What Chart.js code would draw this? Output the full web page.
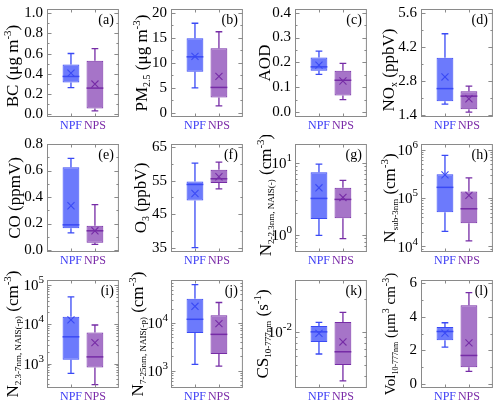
<!DOCTYPE html>
<html><head><meta charset="utf-8">
<script src="https://cdn.jsdelivr.net/npm/chart.js@4.4.1/dist/chart.umd.min.js"></script>
<style>
html,body{margin:0;padding:0;background:#fff;width:500px;height:406px;overflow:hidden;position:relative}
canvas{position:absolute}
</style></head><body>
<script>
// ---------------- DATA ----------------
const categories = ['NPF', 'NPS'];
// box stats: [min, q1, median, q3, max]; means: [NPF, NPS]
const bcNPF = [0.264, 0.314, 0.375, 0.492, 0.601];
const bcNPS = [0.035, 0.060, 0.260, 0.530, 0.650];
const bcMean = [0.408, 0.300];
const bcTicks = [0, 0.2, 0.4, 0.6, 0.8, 1.0];

const pmNPF = [5.0, 8.2, 11.2, 14.9, 17.9];
const pmNPS = [1.4, 3.1, 5.1, 12.9, 16.2];
const pmMean = [11.3, 7.3];
const pmTicks = [0, 5, 10, 15, 20];

const aodNPF = [0.152, 0.166, 0.182, 0.220, 0.245];
const aodNPS = [0.050, 0.067, 0.128, 0.166, 0.196];
const aodMean = [0.189, 0.125];
const aodTicks = [0.0, 0.1, 0.2, 0.3, 0.4];

const noxNPF = [1.86, 1.98, 2.50, 3.77, 4.76];
const noxNPS = [1.53, 1.65, 2.19, 2.39, 2.60];
const noxMean = [2.98, 2.08];
const noxTicks = [1.4, 2.8, 4.2, 5.6];

const coNPF = [0.130, 0.165, 0.190, 0.624, 0.692];
const coNPS = [0.042, 0.055, 0.145, 0.183, 0.342];
const coMean = [0.334, 0.145];
const coTicks = [0.0, 0.2, 0.4, 0.6, 0.8];

const o3NPF = [35.0, 49.1, 53.9, 54.8, 60.3];
const o3NPS = [52.6, 54.3, 55.6, 58.3, 60.6];
const o3Mean = [51.2, 56.2];
const o3Ticks = [35, 45, 55, 65];

const n2NPF = [0.98, 1.65, 3.2, 7.4, 9.6];
const n2NPS = [0.88, 1.7, 3.1, 4.5, 5.7];
const n2Mean = [4.5, 3.3];
const n2Ticks = [1, 10];

const nsubNPF = [2.05e4, 5.1e4, 1.66e5, 3.1e5, 7.6e5];
const nsubNPS = [1.3e4, 3.0e4, 6.0e4, 1.37e5, 2.6e5];
const nsubMean = [3.0e5, 1.13e5];
const nsubTicks = [1e4, 1e5, 1e6];

const n23NPF = [560, 1260, 4800, 1.55e4, 5.0e4];
const n23NPS = [290, 790, 1480, 6200, 9600];
const n23Mean = [1.3e4, 3400];
const n23Ticks = [1e3, 1e4, 1e5];

const n7NPF = [1360, 6200, 1.2e4, 3.25e4, 6.4e4];
const n7NPS = [1250, 2250, 5800, 1.45e4, 2.7e4];
const n7Mean = [2.25e4, 9700];
const n7Ticks = [1e3, 1e4];

const csNPF = [6.3e-3, 8.1e-3, 1.0e-2, 1.13e-2, 1.22e-2];
const csNPS = [3.6e-3, 5.0e-3, 6.6e-3, 1.23e-2, 1.5e-2];
const csMean = [9.7e-3, 8.1e-3];
const csTicks = [1e-2];

const volNPF = [2.2, 2.6, 3.13, 3.4, 3.65];
const volNPS = [0.75, 1.0, 1.7, 4.7, 5.45];
const volMean = [3.03, 2.45];
const volTicks = [0, 2, 4, 6];

// ---------------- STYLE / LAYOUT ----------------
const FONT = '"Liberation Serif","Times New Roman",serif';
Chart.defaults.font.family = FONT;
const fillC = ['rgb(108,122,252)', 'rgb(166,116,200)'];
const lineC = ['rgb(58,74,245)', 'rgb(118,44,166)'];
const lblC = ['#3b3bf5', '#7a2aa8'];
const frameC = '#8a8a8a';
const colLeft = [47, 171, 295, 421], rowTop = [9, 144, 280];
const PW = 74, PH = 108, YW = 47, PADT = 9, PADR = 4, XH = 24;
const TICKFS = 15;

const panels = [
  {letter:'(a)', npf:bcNPF, nps:bcNPS, mean:bcMean, log:false, min:-0.025, max:1.04, ticks:bcTicks, dec:1, row:0, col:0, tOff:29, tY:3, fs:17,
   title:[['BC (μg m',''],['-3','sup'],[')','']]},
  {letter:'(b)', npf:pmNPF, nps:pmNPS, mean:pmMean, log:false, min:-0.8, max:20.74, ticks:pmTicks, dec:0, row:0, col:1, tOff:24, tY:0, fs:17,
   title:[['PM',''],['2.5','sub'],[' (μg m',''],['-3','sup'],[')','']]},
  {letter:'(c)', npf:aodNPF, nps:aodNPS, mean:aodMean, log:false, min:-0.02, max:0.415, ticks:aodTicks, dec:1, row:0, col:2, tOff:25, tY:0, fs:17,
   title:[['AOD','']]},
  {letter:'(d)', npf:noxNPF, nps:noxNPS, mean:noxMean, log:false, min:1.33, max:5.78, ticks:noxTicks, dec:1, row:0, col:3, tOff:27, tY:7, fs:17,
   title:[['NO',''],['x','sub'],[' (ppbV)','']]},
  {letter:'(e)', npf:coNPF, nps:coNPS, mean:coMean, log:false, min:-0.015, max:0.8, ticks:coTicks, dec:1, row:1, col:0, tOff:27, tY:0, fs:17,
   title:[['CO (ppmV)','']]},
  {letter:'(f)', npf:o3NPF, nps:o3NPS, mean:o3Mean, log:false, min:33.7, max:66, ticks:o3Ticks, dec:0, row:1, col:1, tOff:25, tY:0, fs:17,
   title:[['O',''],['3','sub'],[' (ppbV)','']]},
  {letter:'(g)', npf:n2NPF, nps:n2NPS, mean:n2Mean, log:true, min:0.575, max:18.3, ticks:n2Ticks, row:1, col:2, tOff:24, tY:-3, fs:17,
   title:[['N',''],['2-2.3nm, NAIS(-)','sub2'],[' (cm',''],['-3','sup'],[')','']]},
  {letter:'(h)', npf:nsubNPF, nps:nsubNPS, mean:nsubMean, log:true, min:7.7e3, max:1.3e6, ticks:nsubTicks, row:1, col:3, tOff:26, tY:0, fs:17,
   title:[['N',''],['sub-3nm','sub2'],[' (cm',''],['-3','sup'],[')','']]},
  {letter:'(i)', npf:n23NPF, nps:n23NPS, mean:n23Mean, log:true, min:239, max:1.34e5, ticks:n23Ticks, row:2, col:0, tOff:29, tY:0, fs:17,
   title:[['N',''],['2.3-7nm, NAIS(-p)','sub2'],[' (cm',''],['-3','sup'],[')','']]},
  {letter:'(j)', npf:n7NPF, nps:n7NPS, mean:n7Mean, log:true, min:435, max:8.0e4, ticks:n7Ticks, row:2, col:1, tOff:28, tY:0, fs:17,
   title:[['N',''],['7-25nm, NAIS(-p)','sub2'],[' (cm',''],['-3','sup'],[')','']]},
  {letter:'(k)', npf:csNPF, nps:csNPS, mean:csMean, log:true, min:3.1e-3, max:2.95e-2, ticks:csTicks, row:2, col:2, tOff:27, tY:0, fs:17,
   title:[['CS',''],['10-777nm','sub2'],[' (s',''],['-1','sup'],[')','']]},
  {letter:'(l)', npf:volNPF, nps:volNPS, mean:volMean, log:false, min:-0.24, max:6.2, ticks:volTicks, dec:0, row:2, col:3, tOff:26, tY:0, fs:15,
   title:[['Vol',''],['10-777nm','sub2'],[' (μm',''],['3','sup'],[' cm',''],['-3','sup'],[')','']]},
];

function segFont(kind, fs){
  if (kind === 'sup') return Math.round(fs*0.66) + 'px ' + FONT;
  if (kind === 'sub') return Math.round(fs*0.6) + 'px ' + FONT;
  if (kind === 'sub2') return Math.round(fs*0.5) + 'px ' + FONT;
  return fs + 'px ' + FONT;
}
function drawRotTitle(ctx, segs, xBase, yCenter, fs){
  ctx.save();
  let total = 0;
  const w = segs.map(s => { ctx.font = segFont(s[1], fs); const m = ctx.measureText(s[0]).width; total += m; return m; });
  ctx.translate(xBase, yCenter);
  ctx.rotate(-Math.PI/2);
  ctx.fillStyle = '#000';
  ctx.textBaseline = 'alphabetic';
  ctx.textAlign = 'left';
  let x = -total/2;
  segs.forEach((s, i) => {
    ctx.font = segFont(s[1], fs);
    const dy = s[1] === 'sup' ? -fs*0.42 : (s[1] === 'sub' || s[1] === 'sub2') ? fs*0.2 : 0;
    ctx.fillText(s[0], x, dy);
    x += w[i];
  });
  ctx.restore();
}

function makePlugin(p){
  return {
    id: 'boxplot' + p.letter,
    afterDatasetDraw(chart, args){
      if (args.index !== 0) return;
      const ctx = chart.ctx, xs = chart.scales.x, ys = chart.scales.y;
      const Y = v => ys.getPixelForValue(v);
      ctx.save();
      [p.npf, p.nps].forEach((b, i) => {
        const cx = xs.getPixelForValue(i + 1);
        const hw = xs.getPixelForValue(i + 1.35) - cx;
        const cw = xs.getPixelForValue(i + 1.14) - cx;
        ctx.strokeStyle = lineC[i];
        ctx.lineWidth = 1.3;
        ctx.beginPath();
        ctx.moveTo(cx, Y(b[3])); ctx.lineTo(cx, Y(b[4]));
        ctx.moveTo(cx - cw, Y(b[4])); ctx.lineTo(cx + cw, Y(b[4]));
        ctx.moveTo(cx, Y(b[1])); ctx.lineTo(cx, Y(b[0]));
        ctx.moveTo(cx - cw, Y(b[0])); ctx.lineTo(cx + cw, Y(b[0]));
        ctx.stroke();
        ctx.lineWidth = 1.5;
        ctx.beginPath();
        ctx.moveTo(cx - hw, Y(b[2])); ctx.lineTo(cx + hw, Y(b[2]));
        ctx.stroke();
      });
      ctx.restore();
    },
    afterDraw(chart){
      const ctx = chart.ctx, a = chart.chartArea, xs = chart.scales.x, ys = chart.scales.y;
      ctx.save();
      ctx.strokeStyle = frameC; ctx.lineWidth = 1;
      ctx.strokeRect(a.left + 0.5, a.top + 0.5, a.right - a.left - 1, a.bottom - a.top - 1);
      const tickAt = (v, len) => {
        const y = Math.round(ys.getPixelForValue(v)) + 0.5;
        if (y < a.top || y > a.bottom) return;
        ctx.moveTo(a.left, y); ctx.lineTo(a.left + len, y);
        ctx.moveTo(a.right, y); ctx.lineTo(a.right - len, y);
      };
      ctx.beginPath();
      if (p.log) {
        const d0 = Math.floor(Math.log10(p.min)), d1 = Math.ceil(Math.log10(p.max));
        for (let d = d0; d <= d1; d++) {
          for (let m = 1; m <= 9; m++) {
            const v = m * Math.pow(10, d);
            if (v > p.min && v < p.max) tickAt(v, m === 1 ? 4.5 : 2.5);
          }
        }
      } else {
        const t = p.ticks, step = t[1] - t[0];
        t.forEach(v => tickAt(v, 4.5));
        for (let v = t[0] - step/2; v <= p.max; v += step) if (v > p.min) tickAt(v, 2.5);
      }
      [1, 2].forEach(v => {
        const x = Math.round(xs.getPixelForValue(v)) + 0.5;
        ctx.moveTo(x, a.bottom); ctx.lineTo(x, a.bottom - 3.5);
        ctx.moveTo(x, a.top); ctx.lineTo(x, a.top + 3.5);
      });
      ctx.stroke();
      if (p.log) {
        ctx.fillStyle = '#000';
        ctx.textBaseline = 'alphabetic';
        ctx.textAlign = 'left';
        p.ticks.forEach(v => {
          const e = String(Math.round(Math.log10(v)));
          const y = ys.getPixelForValue(v);
          ctx.font = '11px ' + FONT;
          const ws = ctx.measureText(e).width;
          ctx.font = TICKFS + 'px ' + FONT;
          const wb = ctx.measureText('10').width;
          const xEnd = a.left - 3;
          ctx.fillText('10', xEnd - ws - wb, y + 5.2);
          ctx.font = '11px ' + FONT;
          ctx.fillText(e, xEnd - ws, y - 1.8);
        });
      }
      drawRotTitle(ctx, p.title, a.left - p.tOff, (a.top + a.bottom) / 2 + p.tY, p.fs);
      ctx.fillStyle = '#000';
      ctx.font = '14px ' + FONT;
      ctx.textAlign = 'right';
      ctx.textBaseline = 'alphabetic';
      ctx.fillText(p.letter, a.right - 5, a.top + 15);
      ctx.restore();
    }
  };
}

function makePanel(p){
  const W = YW + PW + PADR, H = PADT + PH + XH;
  const cv = document.createElement('canvas');
  cv.style.left = (colLeft[p.col] - YW) + 'px';
  cv.style.top = (rowTop[p.row] - PADT) + 'px';
  cv.style.width = W + 'px'; cv.style.height = H + 'px';
  cv.width = W; cv.height = H;
  document.body.appendChild(cv);
  const zeroPad = s => { s.paddingTop = 0; s.paddingBottom = 0; s.paddingLeft = 0; s.paddingRight = 0; };
  new Chart(cv, {
    type: 'bar',
    data: {
      datasets: [
        { type: 'bar', order: 2,
          data: [{x: 1, y: [p.npf[1], p.npf[3]]}, {x: 2, y: [p.nps[1], p.nps[3]]}],
          backgroundColor: fillC, borderColor: lineC, borderWidth: 1, borderSkipped: false,
          barPercentage: 0.7, categoryPercentage: 1.0 },
        { type: 'scatter', order: 1,
          data: [{x: 1, y: p.mean[0]}, {x: 2, y: p.mean[1]}],
          pointStyle: 'crossRot', pointRadius: 5, pointBorderColor: lineC, pointBorderWidth: 1.1,
          pointBackgroundColor: 'rgba(0,0,0,0)' }
      ]
    },
    options: {
      responsive: false, animation: false, events: [],
      layout: { padding: { top: PADT, right: PADR, left: 0, bottom: 0 } },
      plugins: { legend: { display: false }, tooltip: { enabled: false } },
      scales: {
        x: { type: 'linear', min: 0, max: 3, offset: false, bounds: 'data',
             grid: { display: false, drawTicks: false }, border: { display: false },
             afterBuildTicks: s => { s.ticks = [{value: 1}, {value: 2}]; },
             afterFit: s => { s.height = XH; zeroPad(s); },
             ticks: { autoSkip: false, maxRotation: 0, padding: 2,
                      callback: v => categories[v - 1] || '',
                      color: c => lblC[c.index] || '#000',
                      font: { family: FONT, size: 12 } } },
        y: { type: p.log ? 'logarithmic' : 'linear', min: p.min, max: p.max, bounds: 'data',
             grid: { display: false, drawTicks: false }, border: { display: false },
             afterBuildTicks: s => { s.ticks = p.ticks.map(v => ({value: v})); },
             afterFit: s => { s.width = YW; zeroPad(s); },
             ticks: { display: !p.log, autoSkip: false, padding: 4, color: '#000',
                      callback: v => p.log ? '' : Number(v).toFixed(p.dec),
                      font: { family: FONT, size: TICKFS } } }
      }
    },
    plugins: [makePlugin(p)]
  });
}
panels.forEach(makePanel);
</script>
</body></html>
